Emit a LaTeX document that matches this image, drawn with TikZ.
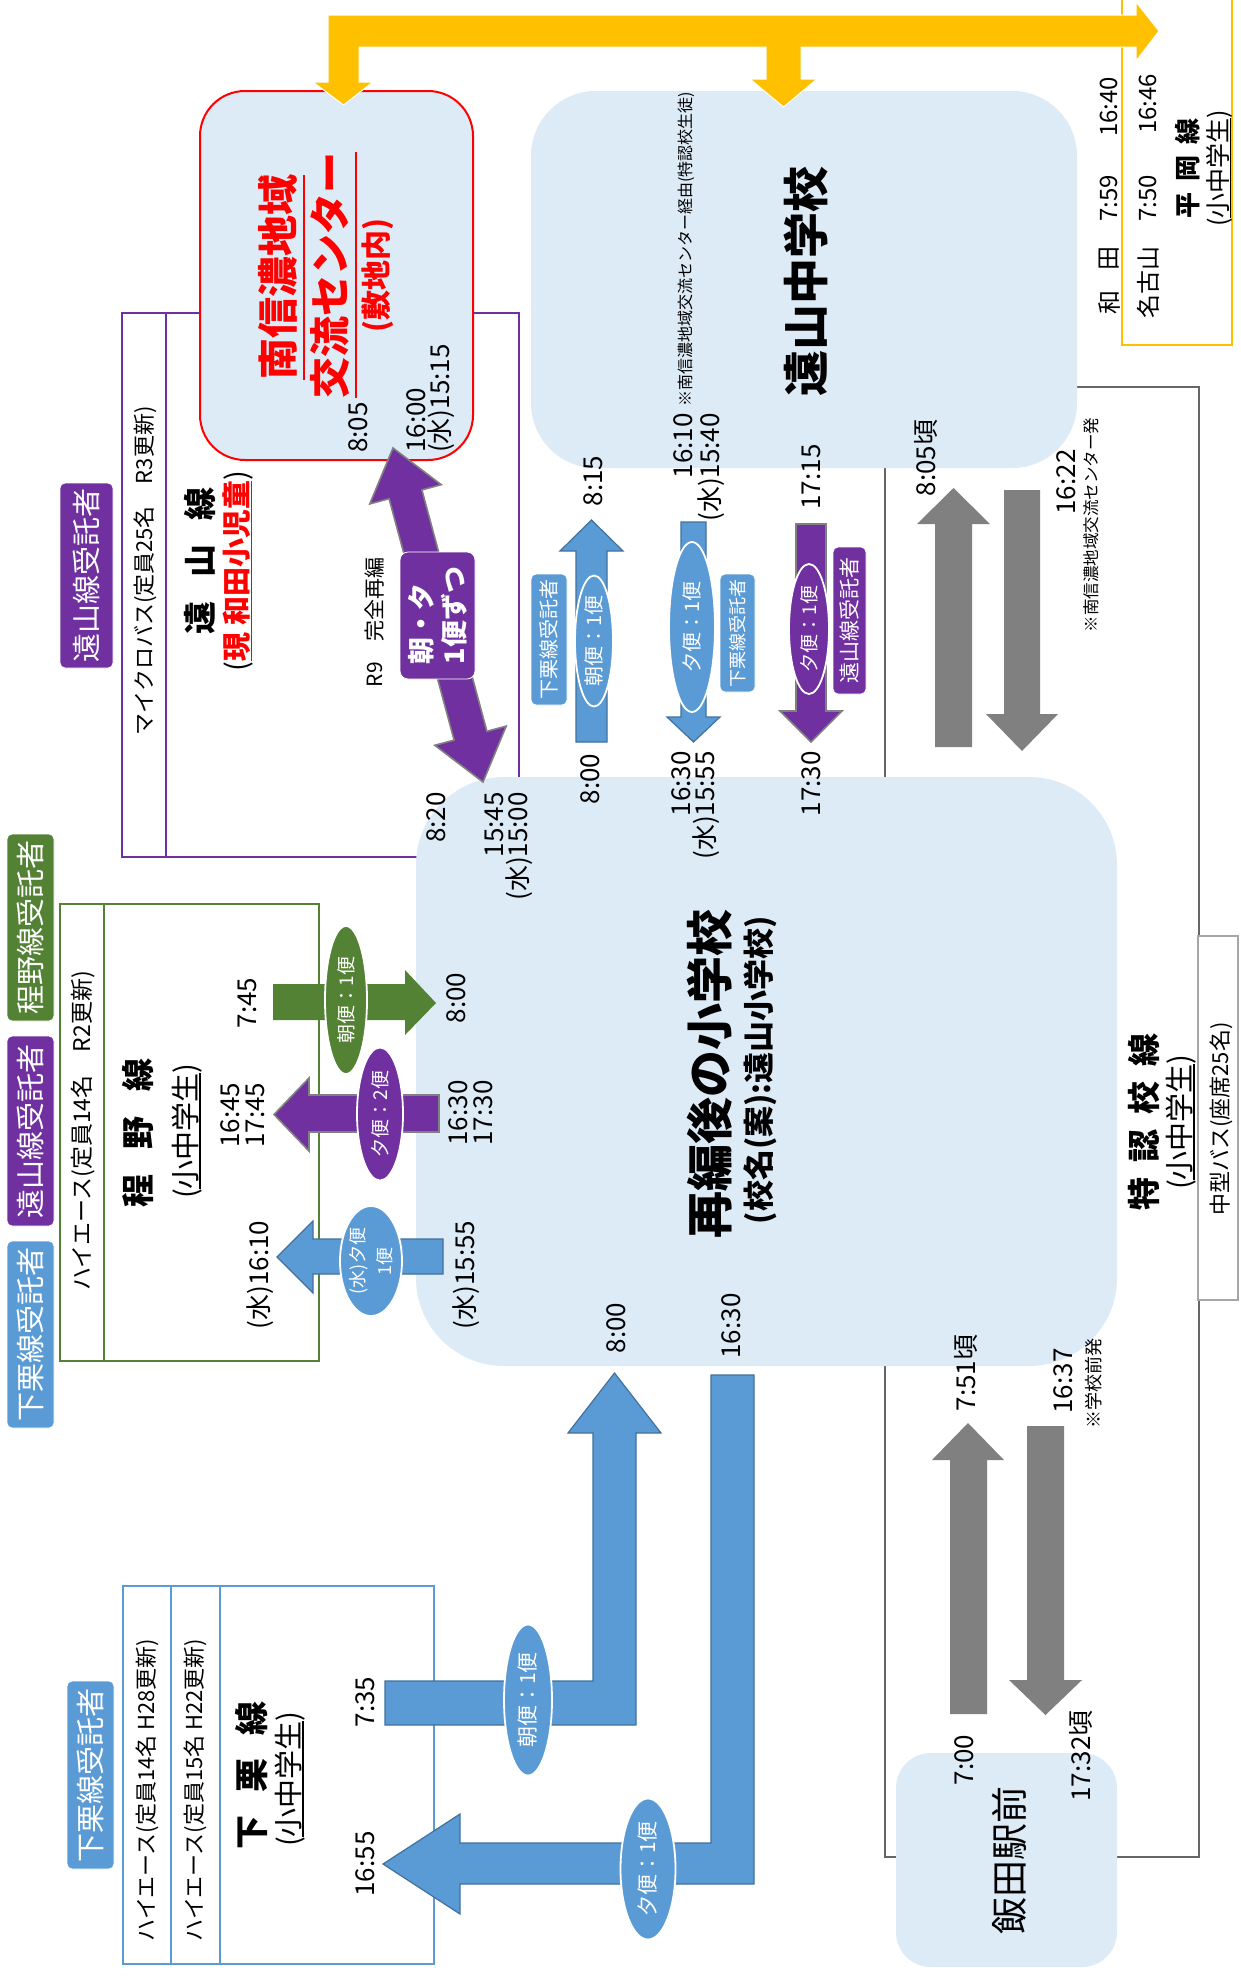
\documentclass[tikz,border=0pt]{standalone}
\usepackage{fontspec}
\setmainfont{Noto Sans CJK JP}
\usetikzlibrary{shapes.geometric}
\definecolor{lb}{HTML}{DDEBF7}
\definecolor{bl}{HTML}{5B9BD5}
\definecolor{bld}{HTML}{41719C}
\definecolor{pu}{HTML}{7030A0}
\definecolor{gr}{HTML}{548235}
\definecolor{gy}{HTML}{808080}
\definecolor{gyl}{HTML}{666666}
\definecolor{gyb}{HTML}{A6A6A6}
\definecolor{ye}{HTML}{FFC000}
\definecolor{rd}{HTML}{FF0000}
\newcommand\ulx[2]{\leavevmode\setbox0\hbox{#2}\rlap{\rule[-#1]{\wd0}{0.055em}}\box0}
\begin{document}
\begin{tikzpicture}[x=1pt,y=-1pt,
  vt/.style={rotate=90,inner sep=0pt},
  fs/.style={font=\fontsize{#1}{#1}\selectfont},
  bd/.style={font=\bfseries\fontsize{#1}{#1}\selectfont},
  tm/.style={vt,fs=26},
  lab/.style={vt,rounded corners=5pt,text=white,draw=white,line width=0.8pt},
  ell/.style={vt,ellipse,draw=white,line width=1.8pt,text=white},
  barr/.style={fill=bl,draw=bld,line width=1.2pt},
  parr/.style={fill=pu,draw=gy,line width=1.6pt},
  bx/.style={fill=lb,inner sep=0pt}]
\useasboundingbox (0,0) rectangle (1240,1976);
\fill[white] (0,0) rectangle (1240,1976);

% route outlines
\draw[pu,line width=2pt] (122,313) rectangle (519,857) (166,313) -- (166,857);
\draw[gyl,line width=2.5pt] (885,387) rectangle (1199,1857);
\draw[ye,line width=2.5pt] (1122,0) -- (1122,345) -- (1232,345) -- (1232,0);
\draw[gr,line width=2.5pt] (60,904) rectangle (319,1361) (104,904) -- (104,1361);
\draw[bl,line width=2pt] (123,1586) rectangle (434,1964) (171,1586) -- (171,1964) (220,1586) -- (220,1964);

% boxes
\node (ctr) [bx,draw=rd,line width=2pt,rounded corners=45pt,minimum width=273pt,minimum height=369pt] at (336.5,275.5) {};
\node (jhs) [bx,rounded corners=65pt,minimum width=546pt,minimum height=377pt] at (804,279.5) {};
\node (sch) [bx,rounded corners=88pt,minimum width=701pt,minimum height=589pt] at (766.5,1071.5) {};
\node (ida) [bx,rounded corners=35pt,minimum width=221pt,minimum height=214pt] at (1006.5,1860) {};
\node (bus) [draw=gyb,fill=white,line width=2pt,minimum width=40pt,minimum height=364pt] at (1218,1118) {};

% yellow arrow
\filldraw[fill=ye,draw=white,line width=1pt] (328,15) -- (1136,15) -- (1136,2) -- (1159,31) -- (1136,61) -- (1136,47) -- (801,47) -- (801,79) -- (817,79) -- (783.5,107) -- (750,79) -- (766,79) -- (766,47) -- (359,47) -- (359,82) -- (373,82) -- (343.5,105) -- (313,82) -- (328,82) -- cycle;

% purple diagonal double arrow
\filldraw[parr] (393,448) -- (441.2,484.7) -- (421.9,489.9) -- (486.9,731.3) -- (506.2,726.1) -- (483,782) -- (434.8,745.3) -- (454.1,740.1) -- (389.1,498.7) -- (369.8,503.9) -- cycle;

% arrows school <-> junior high
\filldraw[barr] (576,742) -- (576,551) -- (560,551) -- (591.5,520) -- (623,551) -- (607,551) -- (607,742) -- cycle;
\filldraw[barr] (681,522) -- (706,522) -- (706,717) -- (720,717) -- (693.5,742) -- (667,717) -- (681,717) -- cycle;
\filldraw[parr] (796,524) -- (826,524) -- (826,711) -- (842,711) -- (811,742) -- (780,711) -- (796,711) -- cycle;
\fill[gy] (935,747) -- (935,524) -- (917,524) -- (953.5,488) -- (990,524) -- (972,524) -- (972,747) -- cycle;
\fill[gy] (1004,490) -- (1040,490) -- (1040,714) -- (1058,714) -- (1022,751) -- (986,714) -- (1004,714) -- cycle;
\fill[gy] (950,1714) -- (950,1460) -- (932,1460) -- (968,1423) -- (1004,1460) -- (987,1460) -- (987,1714) -- cycle;
\fill[gy] (1027,1426) -- (1064,1426) -- (1064,1680) -- (1082,1680) -- (1045.5,1715) -- (1009,1680) -- (1027,1680) -- cycle;

% hodono arrows
\fill[gr] (273,984) -- (405,984) -- (405,970) -- (436,1003) -- (405,1035) -- (405,1020) -- (273,1020) -- cycle;
\filldraw[parr] (439,1095) -- (309,1095) -- (309,1078) -- (274,1114.5) -- (309,1151) -- (309,1132) -- (439,1132) -- cycle;
\filldraw[barr] (443,1239) -- (313,1239) -- (313,1221) -- (277,1257) -- (313,1293) -- (313,1274) -- (443,1274) -- cycle;

% shimoguri arrows
\filldraw[barr] (385,1681) -- (593,1681) -- (593,1433) -- (568,1433) -- (614.5,1373) -- (661,1433) -- (636,1433) -- (636,1725) -- (385,1725) -- cycle;
\filldraw[barr] (711,1375) -- (754,1375) -- (754,1884) -- (460,1884) -- (460,1914) -- (383,1864) -- (460,1814) -- (460,1843) -- (711,1843) -- cycle;

% ellipses
\node (e1) [ell,fill=bl,minimum width=131pt,minimum height=38pt,fs=20] at (594,641) {朝便：1便};
\node (e2) [ell,fill=bl,minimum width=170pt,minimum height=46pt,fs=20] at (692,627) {夕便：1便};
\node (e3) [ell,fill=pu,minimum width=130pt,minimum height=40pt,fs=19] at (809,629) {夕便：1便};
\node (e4) [ell,fill=gr,minimum width=148pt,minimum height=42pt,fs=19] at (346,1000) {朝便：1便};
\node (e5) [ell,fill=pu,minimum width=133pt,minimum height=46pt,fs=19] at (380,1114) {夕便：2便};
\node (e6) [ell,fill=bl,minimum width=110pt,minimum height=62pt,font=\fontsize{18}{27}\selectfont,align=center] at (371,1261) {(水)夕便\\1便};
\node (e7) [ell,fill=bl,minimum width=151pt,minimum height=48pt,fs=21] at (528,1700) {朝便：1便};
\node (e8) [ell,fill=bl,minimum width=141pt,minimum height=55pt,fs=21] at (648,1869) {夕便：1便};

% labels
\node (l1) [lab,fill=pu,minimum width=185pt,minimum height=53pt,fs=29] at (86.5,575.5) {遠山線受託者};
\node (l2) [lab,fill=gr,minimum width=187pt,minimum height=47pt,fs=29] at (30.5,927.5) {程野線受託者};
\node (l3) [lab,fill=pu,minimum width=190pt,minimum height=47pt,fs=29] at (30.5,1131) {遠山線受託者};
\node (l4) [lab,fill=bl,minimum width=187pt,minimum height=47pt,fs=29] at (30.5,1334.5) {下栗線受託者};
\node (l5) [lab,fill=bl,minimum width=188pt,minimum height=47pt,fs=29] at (90.5,1775) {下栗線受託者};
\node (l6) [lab,fill=bl,minimum width=131pt,minimum height=36pt,fs=20] at (549,639.5) {下栗線受託者};
\node (l7) [lab,fill=bl,minimum width=118pt,minimum height=35pt,fs=18] at (737.5,633) {下栗線受託者};
\node (l8) [lab,fill=pu,minimum width=147pt,minimum height=33pt,fs=21] at (849.5,620.5) {遠山線受託者};
\node (l9) [lab,fill=pu,rounded corners=8pt,minimum width=127pt,minimum height=75pt,font=\bfseries\fontsize{27}{33}\selectfont,align=left] at (437.5,615.5) {朝・夕\\1便ずつ};

% center box texts
\node (rc1) [vt,bd=41,text=rd] at (282,277) {\ulx{0.28em}{南信濃地域}};
\node (rc2) [vt,bd=41,text=rd] at (334,275) {\ulx{0.28em}{交流センター}};
\node (rc3) [vt,bd=30,text=rd] at (378,275) {(敷地内)};
\node (rt1) [tm,anchor=west] at (358,453) {8:05};
\node (rt2) [tm,anchor=west] at (416,453) {16:00};
\node (rt3) [tm,anchor=west] at (441,453) {(水)15:15};

% toyama line
\node (yt1) [vt,fs=22] at (145,571) {マイクロバス(定員25名　R3更新)};
\node (yt2) [vt,bd=33] at (200,561) {遠\hspace{24pt}山\hspace{24pt}線};
\node (yt3) [vt,fs=29] at (238,571) {(\textcolor{rd}{\bfseries\ulx{0.16em}{現 和田小児童}})};
\node (yt4) [vt,fs=21] at (375,622) {R9　完全再編};

% hodono line
\node (ht1) [vt,fs=23] at (83,1131) {ハイエース(定員14名　R2更新)};
\node (ht2) [vt,bd=33] at (138,1133) {程\hspace{25pt}野\hspace{25pt}線};
\node (ht3) [vt,fs=29] at (187,1131) {(\ulx{0.16em}{小中学生})};
\node (ht4) [tm,anchor=west] at (230,1148) {16:45};
\node (ht5) [tm,anchor=west] at (255,1148) {17:45};
\node (ht6) [tm] at (247,1003) {7:45};
\node (ht7) [tm] at (260,1275) {(水)16:10};

% shimoguri line
\node (st1) [vt,fs=22] at (147,1790) {ハイエース(定員14名 H28更新)};
\node (st2) [vt,fs=22] at (195,1790) {ハイエース(定員15名 H22更新)};
\node (st3) [vt,bd=34] at (252,1775) {下\hspace{23pt}栗\hspace{23pt}線};
\node (st4) [vt,fs=29] at (290,1779) {(\ulx{0.16em}{小中学生})};
\node (st5) [tm] at (365,1864) {16:55};
\node (st6) [tm] at (365,1702) {7:35};

% school
\node (sc1) [vt,bd=47] at (710,1074) {再編後の小学校};
\node (sc2) [vt,bd=31] at (760,1070) {(校名(案):遠山小学校)};
\node (sc3) [tm,anchor=east] at (436,792) {8:20};
\node (sc4) [tm,anchor=east] at (494,792) {15:45};
\node (sc5) [tm,anchor=east] at (519,792) {(水)15:00};
\node (sc6) [tm] at (590,779) {8:00};
\node (sc7) [tm,anchor=east] at (681,751) {16:30};
\node (sc8) [tm,anchor=east] at (706,751) {(水)15:55};
\node (sc9) [tm,anchor=east] at (811,751) {17:30};
\node (sc10) [tm] at (456,998) {8:00};
\node (sc11) [tm] at (458,1113) {16:30};
\node (sc12) [tm] at (483,1113) {17:30};
\node (sc13) [tm] at (466,1275) {(水)15:55};
\node (sc14) [tm] at (616,1328) {8:00};
\node (sc15) [tm] at (731,1326) {16:30};

% junior high
\node (jh1) [vt,bd=46] at (806,281) {遠山中学校};
\node (jh2) [vt,fs=16] at (686,249) {※南信濃地域交流センター経由(特認校生徒)};
\node (jh3) [tm,anchor=east] at (683,413) {16:10};
\node (jh4) [tm,anchor=east] at (711,413) {(水)15:40};
\node (jh5) [tm] at (593,481) {8:15};
\node (jh6) [tm] at (811,477) {17:15};

% tokunin line
\node (tk1) [vt,bd=33] at (1144,1122) {特\hspace{15pt}認\hspace{15pt}校\hspace{15pt}線};
\node (tk2) [vt,fs=29] at (1181,1122) {(\ulx{0.15em}{小中学生})};
\node (tk3) [vt,fs=22] at (1221,1119) {中型バス(座席25名)};
\node (tk4) [vt,fs=16.5] at (1091,525) {※南信濃地域交流センター発};
\node (tk5) [vt,fs=18] at (1094,1383) {※学校前発};
\node (tk6) [tm] at (926,458) {8:05頃};
\node (tk7) [tm] at (1066,482) {16:22};
\node (tk8) [tm] at (966,1373) {7:51頃};
\node (tk9) [tm] at (1063,1381) {16:37};
\node (tk10) [tm] at (964,1760) {7:00};
\node (tk11) [tm] at (1081,1756) {17:32頃};
\node (iida) [vt,fs=37] at (1009,1860) {飯田駅前};

% hiraoka line
\node (hk1) [vt,fs=24] at (1109,302) {和};
\node (hk2) [vt,fs=24] at (1109,258) {田};
\node (hk3) [vt,fs=24] at (1109,198) {7:59};
\node (hk4) [vt,fs=24] at (1109,107) {16:40};
\node (hk5) [vt,fs=24] at (1148,282) {名古山};
\node (hk6) [vt,fs=24] at (1148,198) {7:50};
\node (hk7) [vt,fs=24] at (1148,104) {16:46};
\node (hk8) [vt,bd=26] at (1188,168) {平\hspace{11pt}岡\hspace{11pt}線};
\node (hk9) [vt,fs=25] at (1219,168) {(\ulx{0.15em}{小中学生})};
\end{tikzpicture}
\end{document}
